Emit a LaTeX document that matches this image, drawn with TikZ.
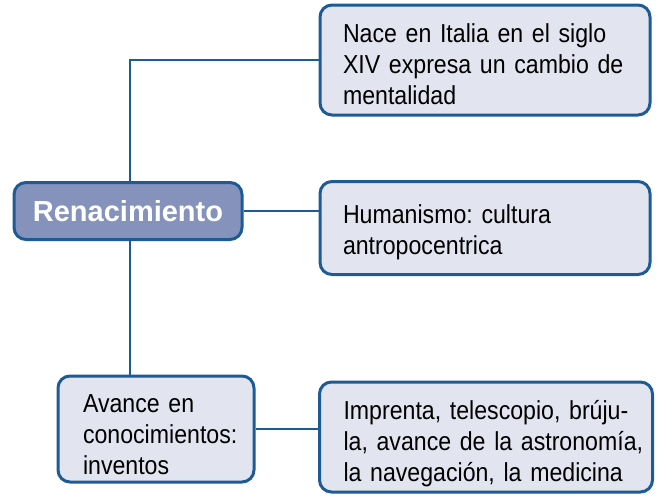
\documentclass[tikz,border=0pt]{standalone}
\usepackage{fontspec}
\setmainfont{Liberation Sans}
\newfontfamily\condfont{Liberation Sans}[FakeStretch=0.89]
\usetikzlibrary{backgrounds}
\definecolor{boxblue}{HTML}{1E5B95}
\definecolor{boxfill}{HTML}{E2E5EF}
\definecolor{renfill}{HTML}{8593BC}
\newcommand{\oneline}[1]{\mbox{#1}}
\newcommand{\topstrut}[1]{\rule{0pt}{#1pt}}
\newcommand{\botstrut}{\rule[-8pt]{0pt}{8pt}}
\tikzset{
  x=1pt,y=-1pt,
  infobox/.style={draw=boxblue, line width=3pt, fill=boxfill, rounded corners=12pt,
    inner sep=0pt, align=left, font=\condfont\fontsize{26}{31}\selectfont\frenchspacing, text=black},
  mainbox/.style={draw=boxblue, line width=3pt, fill=renfill, rounded corners=12pt,
    inner sep=0pt, font=\bfseries\fontsize{29}{34}\selectfont, text=white},
  link/.style={draw=boxblue, line width=2pt}
}
\begin{document}
\begin{tikzpicture}
\useasboundingbox (0,0) rectangle (657,498);
\node[infobox, minimum width=330, minimum height=110, text width=284] (b1) at (485,60)
  {\oneline{\topstrut{34}Nace en Italia en el siglo}\\\oneline{XIV expresa un cambio de}\\\oneline{mentalidad\botstrut}};
\node[mainbox, minimum width=228, minimum height=57] (ren) at (128,211) {Renacimiento};
\node[infobox, minimum width=330, minimum height=93, text width=284] (b2) at (485,228)
  {\oneline{\topstrut{29}Humanismo: cultura}\\\oneline{antropocentrica\botstrut}};
\node[infobox, minimum width=196, minimum height=98, text width=146] (b3) at (156,429)
  {\oneline{\topstrut{36}Avance en}\\\oneline{conocimientos:}\\\oneline{inventos\botstrut}};
\node[infobox, minimum width=333, minimum height=110, text width=285] (b4) at (486,437)
  {\oneline{\topstrut{34}Imprenta, telescopio, brúju-}\\\oneline{la, avance de la astronomía,}\\\oneline{la navegación, la medicina\botstrut}};
\coordinate (spine) at (130,60);
\begin{scope}[on background layer]
\draw[link] (b1.west) -- (spine) -- (spine |- b3.north);
\draw[link] (ren.east) -- (ren.east -| b2.west);
\draw[link] (b3.east) -- (b3.east -| b4.west);
\end{scope}
\end{tikzpicture}
\end{document}
